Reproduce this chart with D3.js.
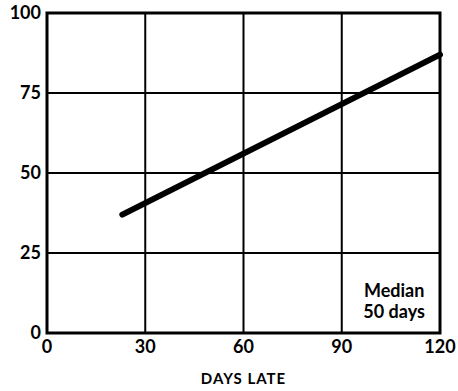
<!DOCTYPE html>
<html lang="en">
<head>
<meta charset="UTF-8">
<title>Days late</title>
<style>
  body { margin: 0; background: #fff; overflow: hidden; }
  text { font-family: Lato, "Liberation Sans", Arial, sans-serif; font-weight: bold; fill: #000; }
</style>
</head>
<body>
<svg id="chart" width="458" height="391"></svg>
<script src="https://cdn.jsdelivr.net/npm/d3@7"></script>
<script>
  // data
  const daysLate = [23, 120];
  const percent = [37, 87];
  const xTicks = [0, 30, 60, 90, 120];
  const yTicks = [0, 25, 50, 75, 100];
  const note = ["Median", "50 days"];

  const margin = { left: 47, right: 18, top: 13, bottom: 58 };
  const width = 458, height = 391;

  const svg = d3.select("#chart");

  const x = d3.scaleLinear().domain([0, 120]).range([margin.left, width - margin.right]);
  const y = d3.scaleLinear().domain([0, 100]).range([height - margin.bottom, margin.top]);

  // grid
  svg.append("g").selectAll("line").data(xTicks.slice(1, -1)).enter().append("line")
    .attr("x1", d => x(d)).attr("x2", d => x(d))
    .attr("y1", y(0)).attr("y2", y(100))
    .attr("stroke", "#000").attr("stroke-width", 2);
  svg.append("g").selectAll("line").data(yTicks.slice(1, -1)).enter().append("line")
    .attr("y1", d => y(d)).attr("y2", d => y(d))
    .attr("x1", x(0)).attr("x2", x(120))
    .attr("stroke", "#000").attr("stroke-width", 2);

  // frame
  svg.append("rect")
    .attr("x", x(0)).attr("y", y(100))
    .attr("width", x(120) - x(0)).attr("height", y(0) - y(100))
    .attr("fill", "none").attr("stroke", "#000").attr("stroke-width", 3);

  // y tick labels
  svg.append("g").selectAll("text").data(yTicks).enter().append("text")
    .attr("x", x(0) - 6).attr("y", d => y(d) + 6)
    .attr("text-anchor", "end")
    .style("font-size", "18px")
    .text(d => d);

  // x tick labels
  svg.append("g").selectAll("text").data(xTicks).enter().append("text")
    .attr("x", d => x(d)).attr("y", y(0) + 20)
    .attr("text-anchor", "middle")
    .style("font-size", "18px")
    .text(d => d);

  svg.append("text")
    .attr("x", x(60)).attr("y", 384)
    .attr("text-anchor", "middle")
    .style("font-size", "15px")
    .style("letter-spacing", "1px")
    .text("DAYS LATE");

  // the line
  const pts = daysLate.map((d, i) => [d, percent[i]]);
  svg.append("path")
    .datum(pts)
    .attr("d", d3.line().x(d => x(d[0])).y(d => y(d[1])))
    .attr("fill", "none").attr("stroke", "#000").attr("stroke-width", 6)
    .attr("stroke-linecap", "round");

  // note
  svg.append("g").selectAll("text").data(note).enter().append("text")
    .attr("x", x(106)).attr("y", (d, i) => 297 + i * 21)
    .attr("text-anchor", "middle")
    .style("font-size", "18px")
    .text(d => d);
</script>
</body>
</html>
